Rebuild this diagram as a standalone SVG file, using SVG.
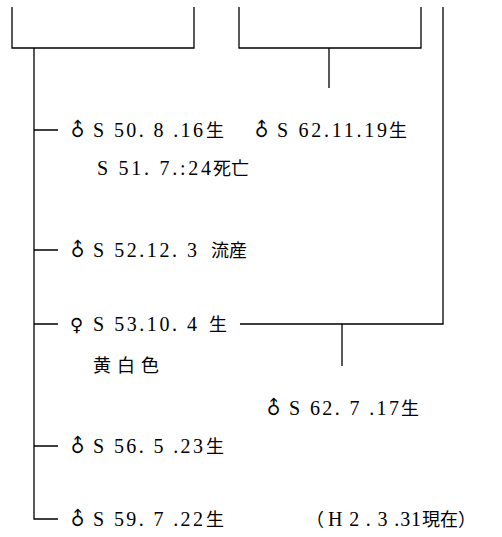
<svg xmlns="http://www.w3.org/2000/svg" width="502" height="537" viewBox="0 0 502 537">
<style>
.ln{fill:none;stroke:#000;stroke-width:1.3}
.t{font-family:"Liberation Serif","DejaVu Serif","Noto Sans CJK JP",serif;font-size:20px;fill:#000}
.s{font-family:"DejaVu Sans","Noto Sans CJK JP",sans-serif;font-size:18px;fill:#000}
.m{font-family:"DejaVu Sans","Noto Sans CJK JP",sans-serif;font-size:19px;fill:#000;text-anchor:middle}
.k{font-family:"Noto Sans CJK JP",sans-serif;font-size:18px;fill:#000}
</style>
<rect width="502" height="537" fill="#fff"/>
<g id="connectors">
<path class="ln" d="M12,7 V48 H194 V7"/>
<path class="ln" d="M239,7 V48 H421 V7"/>
<path class="ln" d="M329,48 V88"/>
<path class="ln" d="M443,7 V324 H240"/>
<path class="ln" d="M342,324 V366"/>
<path class="ln" d="M34,48 V519 H58"/>
<path class="ln" d="M34,130 H58 M34,250 H58 M34,324 H58 M34,446 H58"/>
</g>
<g id="n1"><text class="m" x="78" y="136" transform="rotate(-45 78 130)">♂</text><text class="t" y="137"><tspan x="93" textLength="110" lengthAdjust="spacing">S 50. 8 .16</tspan><tspan class="k" x="206">生</tspan></text></g>
<g id="n1b"><text class="m" x="262" y="136" transform="rotate(-45 262 130)">♂</text><text class="t" y="137"><tspan x="277" textLength="110" lengthAdjust="spacing">S 62.11.19</tspan><tspan class="k" x="389">生</tspan></text></g>
<g id="n2"><text class="t" y="175"><tspan x="97" textLength="114" lengthAdjust="spacing">S 51. 7.:24</tspan><tspan class="k" x="213">死亡</tspan></text></g>
<g id="n3"><text class="m" x="78" y="256" transform="rotate(-45 78 250)">♂</text><text class="t" y="257"><tspan x="93" textLength="104" lengthAdjust="spacing">S 52.12. 3</tspan><tspan class="k" x="211">流産</tspan></text></g>
<g id="n4"><text class="t" y="331"><tspan class="s" x="70">♀</tspan><tspan x="93" textLength="104" lengthAdjust="spacing">S 53.10. 4</tspan><tspan class="k" x="209">生</tspan></text></g>
<g id="n5"><text class="k" y="372" x="93" letter-spacing="6">黄白色</text></g>
<g id="n6"><text class="m" x="274" y="414" transform="rotate(-45 274 408)">♂</text><text class="t" y="415"><tspan x="289" textLength="110" lengthAdjust="spacing">S 62. 7 .17</tspan><tspan class="k" x="401">生</tspan></text></g>
<g id="n7"><text class="m" x="78" y="452" transform="rotate(-45 78 446)">♂</text><text class="t" y="453"><tspan x="93" textLength="110" lengthAdjust="spacing">S 56. 5 .23</tspan><tspan class="k" x="206">生</tspan></text></g>
<g id="n8"><text class="m" x="78" y="525" transform="rotate(-45 78 519)">♂</text><text class="t" y="526"><tspan x="93" textLength="110" lengthAdjust="spacing">S 59. 7 .22</tspan><tspan class="k" x="206">生</tspan></text></g>
<g id="n9"><text class="t" y="526"><tspan class="k" x="306">（</tspan><tspan x="328" textLength="93" lengthAdjust="spacing">H  2 . 3 .31</tspan><tspan class="k" x="422">現在</tspan><tspan class="k" x="458">）</tspan></text></g>
</svg>
